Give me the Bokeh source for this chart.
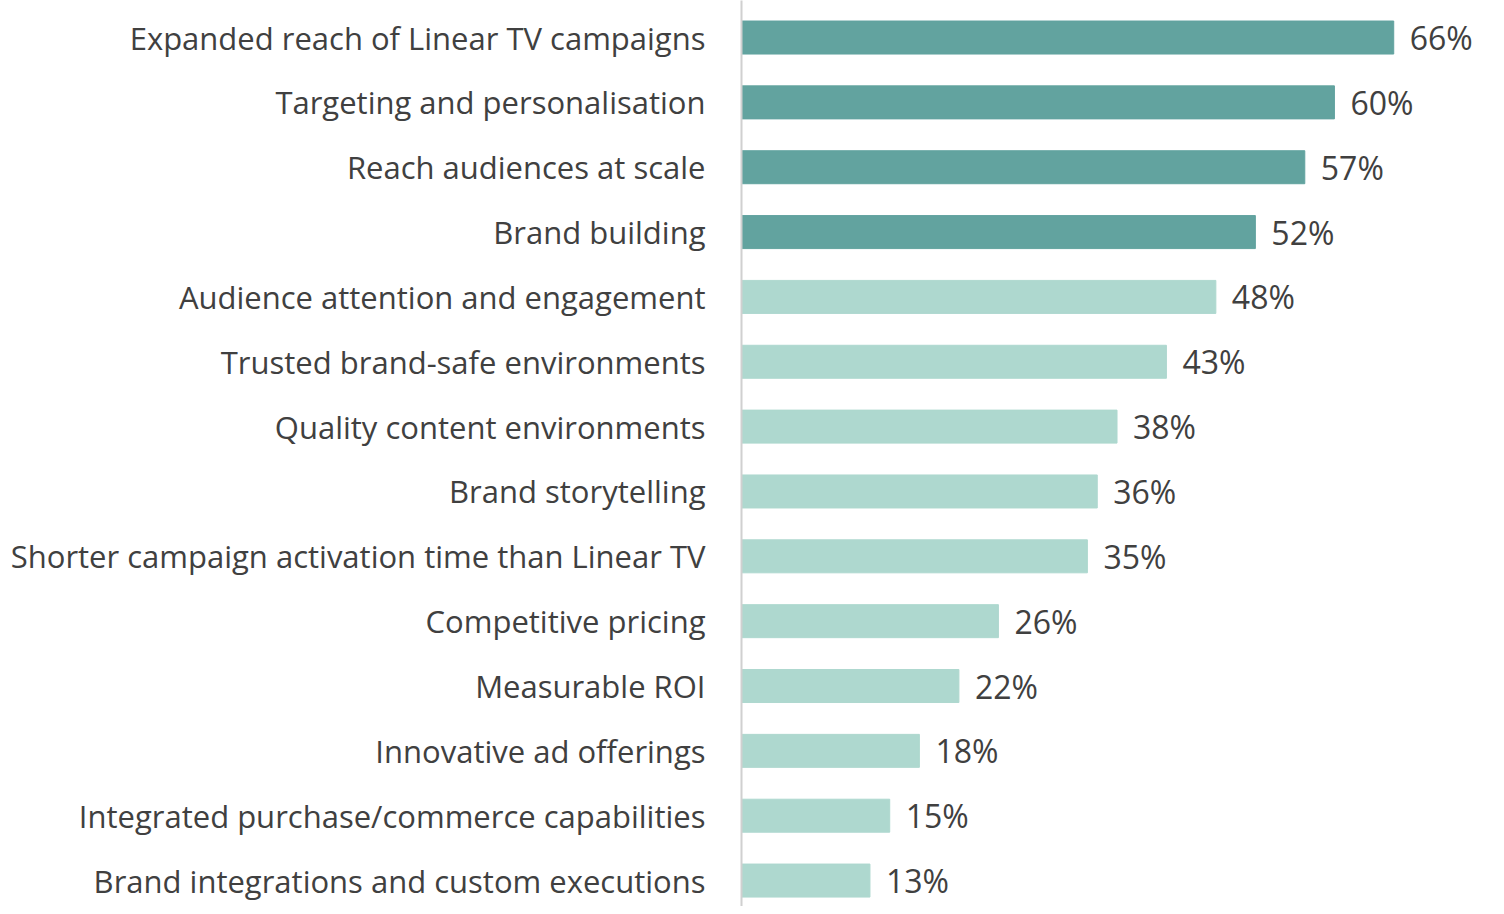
from bokeh.plotting import figure
from bokeh.models import Range1d, FixedTicker, ColumnDataSource
from bokeh.core.properties import value
from bokeh.embed import file_html
from bokeh.resources import INLINE

categories = [
    "Expanded reach of Linear TV campaigns",
    "Targeting and personalisation",
    "Reach audiences at scale",
    "Brand building",
    "Audience attention and engagement",
    "Trusted brand-safe environments",
    "Quality content environments",
    "Brand storytelling",
    "Shorter campaign activation time than Linear TV",
    "Competitive pricing",
    "Measurable ROI",
    "Innovative ad offerings",
    "Integrated purchase/commerce capabilities",
    "Brand integrations and custom executions",
]
values = [66, 60, 57, 52, 48, 43, 38, 36, 35, 26, 22, 18, 15, 13]
highlight = [True, True, True, True, False, False, False, False, False, False, False, False, False, False]

DARK = "#62A39F"
LIGHT = "#AED8CF"
FONT = "Open Sans"
n = len(categories)
ypos = [n - 1 - i for i in range(n)]
colors = [DARK if h else LIGHT for h in highlight]
labels = [f"{v}%" for v in values]

src = ColumnDataSource(dict(y=ypos, v=values, c=colors, lab=labels))

p = figure(width=1496, height=906, output_backend="svg", toolbar_location=None,
           x_range=Range1d(0, 76.4), y_range=Range1d(-0.40, 13.571),
           x_axis_location=None, min_border_left=741, min_border_right=0,
           min_border_top=0, min_border_bottom=0)
p.outline_line_color = None
p.xgrid.visible = False
p.ygrid.visible = False

p.hbar(y="y", right="v", left=0, height=0.509, color="c", source=src)
p.text(x="v", y="y", text="lab", source=src, x_offset=16, text_baseline="middle",
       text_align="left", text_font=value(FONT), text_font_size="32px", text_color="#404040")

ax = p.yaxis[0]
ax.ticker = FixedTicker(ticks=ypos)
ax.major_label_overrides = {yy: c for yy, c in zip(ypos, categories)}
ax.major_tick_line_color = None
ax.minor_tick_line_color = None
ax.axis_line_color = "#D0D0D0"
ax.axis_line_width = 2
ax.major_label_standoff = 30
ax.major_label_text_font = FONT
ax.major_label_text_font_size = "31px"
ax.major_label_text_color = "#404040"

open("out.html", "w").write(file_html(p, INLINE))
